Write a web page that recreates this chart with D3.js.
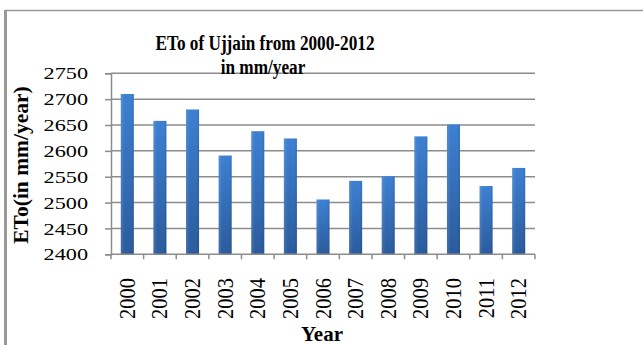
<!DOCTYPE html>
<html><head><meta charset="utf-8">
<script src="https://cdn.jsdelivr.net/npm/d3@7"></script>
<style>html,body{margin:0;padding:0;background:#fff;}svg{display:block;}</style>
</head><body>
<svg id="chart" width="643" height="345"></svg>
<script>
const years = ["2000","2001","2002","2003","2004","2005","2006","2007","2008","2009","2010","2011","2012"];
const etoValues = [2710, 2658, 2680, 2591, 2638, 2624, 2506, 2542, 2551, 2628, 2651, 2532, 2567];
const yTicks = [2400, 2450, 2500, 2550, 2600, 2650, 2700, 2750];
const titleLines = ["ETo of Ujjain from 2000-2012", "in mm/year"];
const yTitle = "ETo(in mm/year)";
const xTitle = "Year";

(function(){
const svg = d3.select("#chart");
const font = "'Liberation Serif','Times New Roman',serif";
const gray = "#8c8c8c";

// outer border
svg.append("rect").attr("x", 5.5).attr("y", 10.5).attr("width", 700).attr("height", 400)
  .attr("fill", "none").attr("stroke", "#999").attr("stroke-width", 1.5);
svg.append("line").attr("x1", 5.5).attr("x2", 5.5).attr("y1", 10).attr("y2", 345)
  .attr("stroke", "#999").attr("stroke-width", 3);

const pLeft = 111, pRight = 535, pTop = 73.3, pBottom = 254.3;
const x = d3.scaleBand().domain(years).range([pLeft, pRight]).paddingInner(0.6).paddingOuter(0.3);
const xb = d3.scaleBand().domain(years).range([pLeft, pRight]);
const y = d3.scaleLinear().domain([2400, 2750]).range([pBottom, pTop]);

const defs = svg.append("defs");
const grad = defs.append("linearGradient").attr("id", "barGrad").attr("x1", 0).attr("x2", 0).attr("y1", 0).attr("y2", 1);
grad.append("stop").attr("offset", "0%").attr("stop-color", "#3d80d2");
grad.append("stop").attr("offset", "100%").attr("stop-color", "#2b5b9c");
const hgrad = defs.append("linearGradient").attr("id", "barH").attr("x1", 0).attr("x2", 1).attr("y1", 0).attr("y2", 0);
hgrad.append("stop").attr("offset", "0%").attr("stop-color", "#fff").attr("stop-opacity", 0.12);
hgrad.append("stop").attr("offset", "30%").attr("stop-color", "#fff").attr("stop-opacity", 0);
hgrad.append("stop").attr("offset", "80%").attr("stop-color", "#000").attr("stop-opacity", 0);
hgrad.append("stop").attr("offset", "100%").attr("stop-color", "#000").attr("stop-opacity", 0.1);

// gridlines
svg.append("g").selectAll("line").data(yTicks.slice(1)).join("line")
  .attr("x1", pLeft).attr("x2", pRight).attr("y1", d => y(d)).attr("y2", d => y(d))
  .attr("stroke", gray).attr("stroke-width", 1.5);

// y axis
const yAxis = svg.append("g").attr("transform", `translate(${pLeft},0)`)
  .call(d3.axisLeft(y).tickValues(yTicks).tickSize(6).tickPadding(23).tickFormat(d3.format("d")));
yAxis.select(".domain").attr("stroke", gray).attr("stroke-width", 1.5);
yAxis.selectAll(".tick line").attr("stroke", gray).attr("stroke-width", 1.5);
yAxis.selectAll(".tick text").attr("font-family", font).attr("font-size", 17.5).attr("fill", "#000")
  .attr("x", -23/1.27).attr("transform", "scale(1.27,1)");

// bars
const bars = svg.append("g");
bars.selectAll("rect.b").data(years).join("rect").attr("class","b")
  .attr("x", d => x(d)).attr("width", x.bandwidth())
  .attr("y", (d,i) => y(etoValues[i])).attr("height", (d,i) => pBottom - y(etoValues[i]))
  .attr("fill", "url(#barGrad)");
bars.selectAll("rect.h").data(years).join("rect").attr("class","h")
  .attr("x", d => x(d)).attr("width", x.bandwidth())
  .attr("y", (d,i) => y(etoValues[i])).attr("height", (d,i) => pBottom - y(etoValues[i]))
  .attr("fill", "url(#barH)");

// x axis
const xAxis = svg.append("g").attr("transform", `translate(0,${pBottom})`);
xAxis.append("line").attr("x1", pLeft).attr("x2", pRight).attr("stroke", gray).attr("stroke-width", 1.5);
xAxis.selectAll("line.t").data(years.concat(["end"])).join("line").attr("class","t")
  .attr("x1", (d,i) => i < years.length ? xb(d) : pRight).attr("x2", (d,i) => i < years.length ? xb(d) : pRight)
  .attr("y1", 0).attr("y2", 5).attr("stroke", gray).attr("stroke-width", 1.5);
xAxis.selectAll("text").data(years).join("text")
  .attr("transform", d => `translate(${xb(d) + xb.bandwidth()/2 + 7.5},${278 - pBottom}) rotate(-90) scale(1,1.12)`)
  .attr("text-anchor", "end").attr("font-family", font).attr("font-size", 20.5).attr("fill", "#000")
  .text(d => d);

// titles
svg.append("text").attr("transform", "translate(265,50) scale(0.84,1)").attr("text-anchor", "middle")
  .attr("font-family", font).attr("font-weight", "bold").attr("font-size", 20.5).text(titleLines[0]);
svg.append("text").attr("transform", "translate(263,74) scale(0.84,1)").attr("text-anchor", "middle")
  .attr("font-family", font).attr("font-weight", "bold").attr("font-size", 20.5).text(titleLines[1]);
svg.append("text").attr("transform", "translate(28,165) rotate(-90)").attr("text-anchor", "middle")
  .attr("font-family", font).attr("font-weight", "bold").attr("font-size", 21.5).text(yTitle);
svg.append("text").attr("x", 322).attr("y", 341).attr("text-anchor", "middle")
  .attr("font-family", font).attr("font-weight", "bold").attr("font-size", 21).text(xTitle);
})();
</script>
</body></html>
